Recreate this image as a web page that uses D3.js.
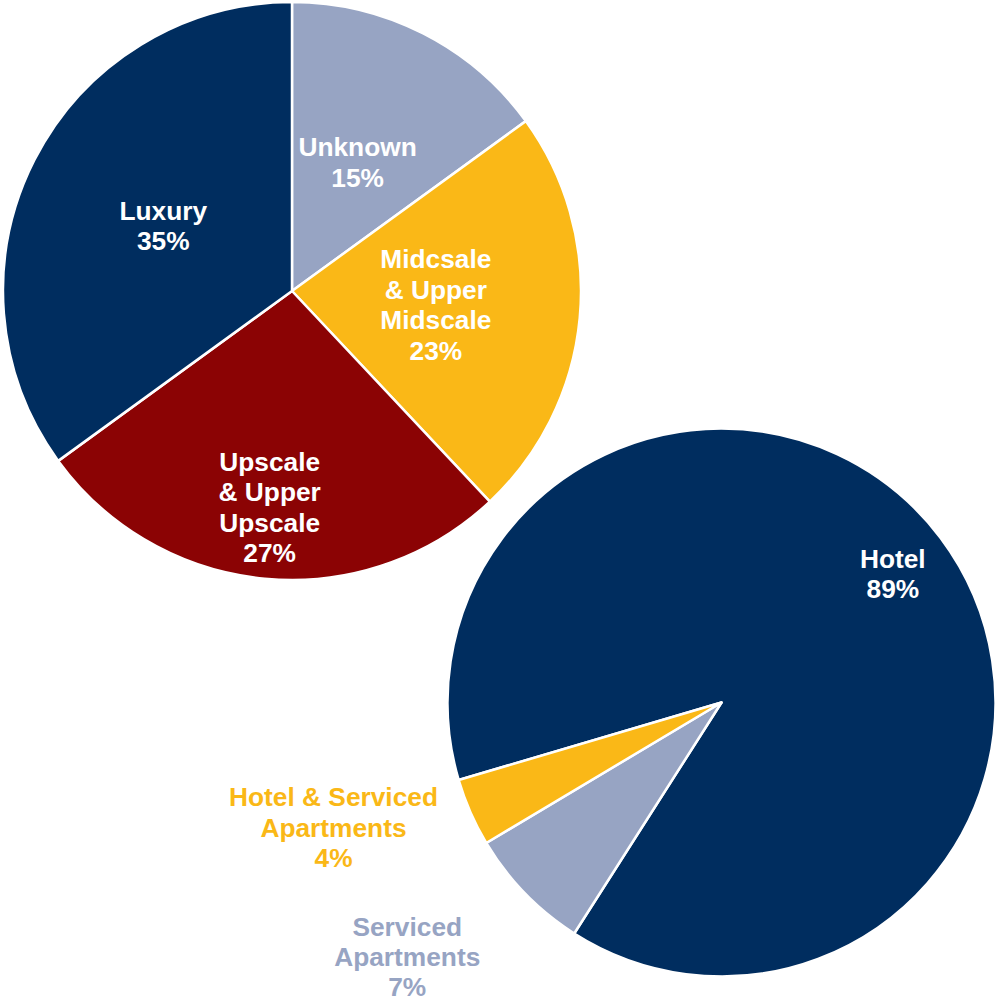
<!DOCTYPE html>
<html>
<head>
<meta charset="utf-8">
<script src="https://cdn.jsdelivr.net/npm/d3@7"></script>
<style>
  html, body { margin: 0; padding: 0; background: #fff; }
  svg { display: block; }
  text { font-family: "Liberation Sans", Arial, Helvetica, sans-serif; font-weight: bold; }
</style>
</head>
<body>
<svg id="chart" width="1000" height="1002"></svg>
<script>
// ---- Data: chart 1 (by class) ----
const classCategories = ["Unknown", "Midcsale\n& Upper\nMidscale", "Upscale\n& Upper\nUpscale", "Luxury"];
const classValues = [15, 23, 27, 35];

// ---- Data: chart 2 (by type) ----
const typeCategories = ["Hotel", "Serviced\nApartments", "Hotel & Serviced\nApartments"];
const typeValues = [88.6, 7.4, 4.0];

// ---- Styling / layout (kept separate from data) ----
const classColors = ["#97A4C3", "#FAB817", "#8B0304", "#002D5F"];
const typeColors = ["#002D5F", "#97A4C3", "#FAB817"];

const layouts = [
  {
    categories: classCategories, values: classValues, colors: classColors,
    cx: 292, cy: 291, r: 289, startDeg: 0,
    labelR: [0.5, 0.5, 0.752, 0.5], labelDA: [0, 0, 0.5, 0], inside: [true, true, true, true]
  },
  {
    categories: typeCategories, values: typeValues, colors: typeColors,
    cx: 721.5, cy: 702.5, r: 274, startDeg: 253.56,
    labelR: [0.7825, 1.475, 1.4876], labelDA: [0, 5.2, 5.8], inside: [true, false, false]
  }
];

const svg = d3.select("#chart");
const fontSize = 26.3;
const lineH = 30.4;

layouts.forEach(cfg => {
  const total = d3.sum(cfg.values);
  const start = cfg.startDeg * Math.PI / 180;
  const pie = d3.pie().sort(null).value(d => d)
    .startAngle(start).endAngle(start + 2 * Math.PI);
  const arcs = pie(cfg.values);
  const arc = d3.arc().innerRadius(0).outerRadius(cfg.r);

  const g = svg.append("g").attr("transform", `translate(${cfg.cx},${cfg.cy})`);

  g.selectAll("path.slice")
    .data(arcs)
    .join("path")
    .attr("class", "slice")
    .attr("d", arc)
    .attr("fill", (d, i) => cfg.colors[i])
    .attr("stroke", "#fff")
    .attr("stroke-width", 2.5)
    .attr("stroke-linejoin", "round");

  arcs.forEach((d, i) => {
    const mid = (d.startAngle + d.endAngle) / 2 + cfg.labelDA[i] * Math.PI / 180;
    const rr = cfg.r * cfg.labelR[i];
    const x = Math.sin(mid) * rr;
    const y = -Math.cos(mid) * rr;
    const pct = Math.round(d.value / total * 100) + "%";
    const lines = cfg.categories[i].split("\n").concat([pct]);
    const t = g.append("text")
      .attr("text-anchor", "middle")
      .attr("font-size", fontSize)
      .attr("fill", cfg.inside[i] ? "#fff" : cfg.colors[i]);
    lines.forEach((ln, k) => {
      t.append("tspan")
        .attr("x", x)
        .attr("y", y + (k - (lines.length - 1) / 2) * lineH)
        .attr("dy", "0.355em")
        .text(ln);
    });
  });
});
</script>
</body>
</html>
